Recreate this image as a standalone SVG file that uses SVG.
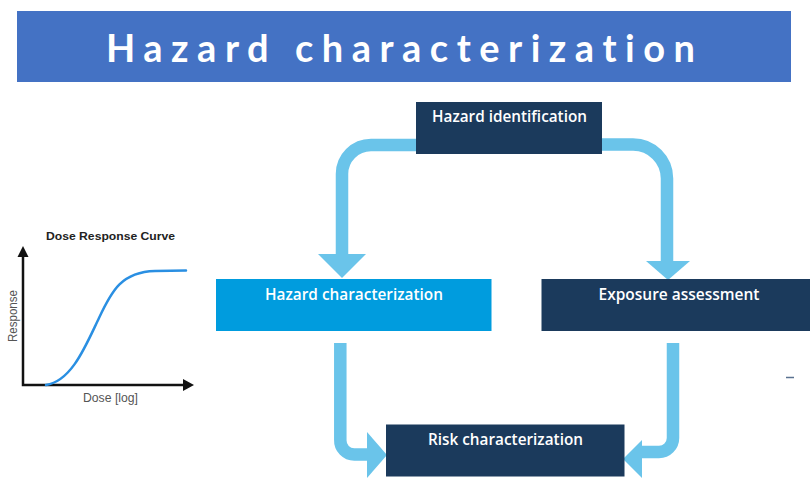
<svg xmlns="http://www.w3.org/2000/svg" width="810" height="478" viewBox="0 0 810 478">
  <defs>
    <style>
      .banner { fill: #4472C4; }
      .title { font-family: Lato, "Open Sans", "Liberation Sans", sans-serif; font-weight: 700; font-size: 38px; fill: #ffffff; font-variant-ligatures: none; }
      .box-dark { fill: #1B3A5C; }
      .box-light { fill: #009CDE; }
      .label { font-family: "Open Sans", "Liberation Sans", sans-serif; font-weight: 600; font-size: 16px; fill: #ffffff; }
      .flow { fill: none; stroke: #6AC4EA; stroke-width: 12.5; }
      .head { fill: #6AC4EA; }
      .axis { fill: none; stroke: #111111; stroke-width: 2.5; }
      .axis-head { fill: #111111; }
      .curve { fill: none; stroke: #2A8FE2; stroke-width: 2.5; stroke-linecap: round; }
      .chart-title { font-family: "Liberation Sans", Arial, sans-serif; font-weight: 700; font-size: 11.5px; fill: #222222; }
      .chart-axis { font-family: "Liberation Sans", Arial, sans-serif; font-size: 12px; fill: #555555; }
    </style>
  </defs>

  <rect width="810" height="478" fill="#ffffff"/>

  <!-- Title banner -->
  <g id="banner">
    <rect class="banner" x="17" y="11" width="774" height="71"/>
    <text class="title" x="106" y="62" textLength="589" lengthAdjust="spacing">Hazard characterization</text>
  </g>

  <!-- Dose response chart -->
  <g id="dose-response-chart">
    <text class="chart-title" x="110.5" y="240" text-anchor="middle" textLength="129" lengthAdjust="spacingAndGlyphs">Dose Response Curve</text>
    <path class="axis" d="M23,255 V385 H184"/>
    <polygon class="axis-head" points="23,246 17.5,257 28.5,257"/>
    <polygon class="axis-head" points="194,385 183,379 183,391"/>
    <path class="curve" d="M46,385 C72,381 86,345 99,318 C112,290 122,272 155,271 L186,270.5"/>
    <text class="chart-axis" transform="translate(16.5,316) rotate(-90)" text-anchor="middle" textLength="52" lengthAdjust="spacingAndGlyphs">Response</text>
    <text class="chart-axis" x="110.5" y="402" text-anchor="middle" textLength="55" lengthAdjust="spacingAndGlyphs">Dose [log]</text>
  </g>

  <!-- Connectors -->
  <g id="connectors">
    <path class="flow" d="M417,145 H371 A29,29 0 0 0 342,174 V256"/>
    <polygon class="head" points="318,254 366,254 342,278"/>

    <path class="flow" d="M601,144.5 H633 A34,34 0 0 1 667,178.5 V263"/>
    <polygon class="head" points="646,261 690,261 668,280"/>

    <path class="flow" d="M340.3,343 V440 A14,14 0 0 0 354.3,454.5 H369"/>
    <polygon class="head" points="367,432 387,455 367,478"/>

    <path class="flow" d="M673,343 V438 A14,14 0 0 1 659,452 H640"/>
    <polygon class="head" points="642,440 623,459 642,478"/>
  </g>

  <!-- Nodes -->
  <g id="hazard-identification">
    <rect class="box-dark" x="416" y="102" width="186" height="52"/>
    <text class="label" x="509.5" y="122" text-anchor="middle" textLength="155" lengthAdjust="spacingAndGlyphs">Hazard identification</text>
  </g>

  <g id="hazard-characterization">
    <rect class="box-light" x="216" y="279" width="275.5" height="52"/>
    <text class="label" x="354" y="300" text-anchor="middle" textLength="178" lengthAdjust="spacingAndGlyphs">Hazard characterization</text>
  </g>

  <g id="exposure-assessment">
    <rect class="box-dark" x="541.5" y="279" width="270" height="52"/>
    <text class="label" x="679" y="300" text-anchor="middle" textLength="161" lengthAdjust="spacingAndGlyphs">Exposure assessment</text>
  </g>

  <g id="risk-characterization">
    <rect class="box-dark" x="386" y="424.5" width="238.5" height="52"/>
    <text class="label" x="505.5" y="445" text-anchor="middle" textLength="155" lengthAdjust="spacingAndGlyphs">Risk characterization</text>
  </g>

  <!-- short dash mark at the right -->
  <line x1="786" y1="377.5" x2="794" y2="377.5" stroke="#5A7290" stroke-width="1.5"/>
</svg>
